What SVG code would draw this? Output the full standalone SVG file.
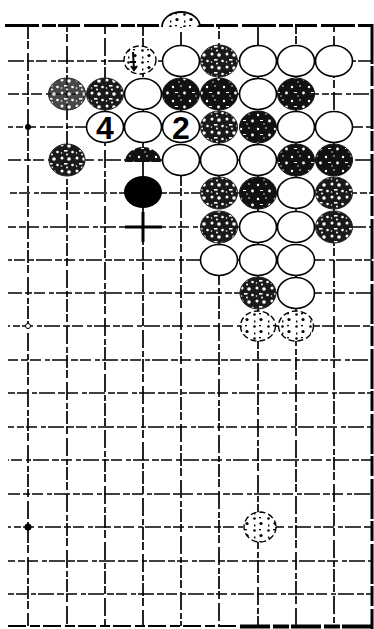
<svg xmlns="http://www.w3.org/2000/svg" width="374" height="629" viewBox="0 0 374 629">
<defs>
<pattern id="dk" width="17" height="14" patternUnits="userSpaceOnUse">
<rect width="17" height="14" fill="#111"/>
<circle cx="3" cy="3" r="1.2" fill="#fff"/>
<circle cx="11" cy="2" r="0.8" fill="#fff"/>
<circle cx="14.5" cy="9" r="1.4" fill="#fff"/>
<rect x="5" y="8" width="3" height="1" fill="#fff"/>
<circle cx="9" cy="12" r="0.7" fill="#fff"/>
</pattern>
<pattern id="md" width="15" height="13" patternUnits="userSpaceOnUse">
<rect width="15" height="13" fill="#1a1a1a"/>
<circle cx="2" cy="2" r="1.5" fill="#fff"/>
<circle cx="9" cy="3" r="1.8" fill="#fff"/>
<rect x="4" y="7" width="3.5" height="1.6" fill="#fff"/>
<circle cx="12.5" cy="9" r="1.3" fill="#fff"/>
<circle cx="7" cy="11.5" r="1" fill="#fff"/>
<circle cx="1.5" cy="10" r="0.8" fill="#fff"/>
</pattern>
<pattern id="lt" width="14" height="12" patternUnits="userSpaceOnUse">
<rect width="14" height="12" fill="#fff"/>
<circle cx="2.5" cy="2.5" r="1.3" fill="#000"/>
<circle cx="9" cy="7.5" r="1.6" fill="#000"/>
<rect x="7" y="1" width="2" height="1.3" fill="#000"/>
<rect x="2" y="8.5" width="1.4" height="2" fill="#000"/>
</pattern>
</defs>
<style>
.h{stroke:#000;stroke-width:1.5;stroke-dasharray:16 3 7 2 11 4 5 2;fill:none}
.v{stroke:#000;stroke-width:1.7;stroke-dasharray:13 2 8 4 18 3 6 2;fill:none}
.e{stroke:#000;fill:none}
.w{fill:#fff;stroke:#000;stroke-width:1.6}
.b1{fill:url(#dk);stroke:#111;stroke-width:1}
.b2{fill:url(#md);stroke:#222;stroke-width:1}
.l{fill:url(#lt);stroke:#000;stroke-width:1.4;stroke-dasharray:6 3}
.num{font-family:"Liberation Sans",Arial,sans-serif;font-size:32px;font-weight:bold;text-anchor:middle;fill:#000}
</style>
<rect width="374" height="629" fill="#fff"/>
<g id="grid">
<line class="h" x1="8" y1="61" x2="372" y2="61"/>
<line class="h" x1="8" y1="94" x2="372" y2="94" stroke-dashoffset="5"/>
<line class="h" x1="8" y1="127" x2="372" y2="127" stroke-dashoffset="11"/>
<line class="h" x1="8" y1="160" x2="372" y2="160" stroke-dashoffset="3"/>
<line class="h" x1="8" y1="193" x2="372" y2="193" stroke-dashoffset="17"/>
<line class="h" x1="8" y1="227" x2="372" y2="227" stroke-dashoffset="8"/>
<line class="h" x1="8" y1="260" x2="372" y2="260" stroke-dashoffset="22"/>
<line class="h" x1="8" y1="293" x2="372" y2="293" stroke-dashoffset="2"/>
<line class="h" x1="8" y1="326" x2="372" y2="326" stroke-dashoffset="14"/>
<line class="h" x1="8" y1="360" x2="372" y2="360" stroke-dashoffset="6"/>
<line class="h" x1="8" y1="393" x2="372" y2="393" stroke-dashoffset="19"/>
<line class="h" x1="8" y1="427" x2="372" y2="427" stroke-dashoffset="10"/>
<line class="h" x1="8" y1="460" x2="372" y2="460" stroke-dashoffset="25"/>
<line class="h" x1="8" y1="494" x2="372" y2="494" stroke-dashoffset="4"/>
<line class="h" x1="8" y1="527" x2="372" y2="527" stroke-dashoffset="13"/>
<line class="h" x1="8" y1="561" x2="372" y2="561" stroke-dashoffset="9"/>
<line class="h" x1="8" y1="594" x2="372" y2="594" stroke-dashoffset="20"/>
<line class="v" x1="28" y1="26" x2="28" y2="626"/>
<line class="v" x1="67" y1="26" x2="67" y2="626" stroke-dashoffset="7"/>
<line class="v" x1="105" y1="26" x2="105" y2="626" stroke-dashoffset="15"/>
<line class="v" x1="143" y1="26" x2="143" y2="626" stroke-dashoffset="3"/>
<line class="v" x1="181" y1="26" x2="181" y2="626" stroke-dashoffset="21"/>
<line class="v" x1="219" y1="26" x2="219" y2="626" stroke-dashoffset="10"/>
<line class="v" x1="258" y1="26" x2="258" y2="626" stroke-dashoffset="26"/>
<line class="v" x1="296" y1="26" x2="296" y2="626" stroke-dashoffset="5"/>
<line class="v" x1="334" y1="26" x2="334" y2="626" stroke-dashoffset="17"/>
<line class="e" x1="5" y1="25.5" x2="374" y2="25.5" stroke-width="3" stroke-dasharray="34 3 14 2 22 4"/>
<line class="e" x1="372" y1="24" x2="372" y2="629" stroke-width="3" stroke-dasharray="40 2 20 3"/>
<line class="e" x1="8" y1="626" x2="240" y2="626" stroke-width="2.2" stroke-dasharray="18 4 10 3"/>
<line class="e" x1="240" y1="626.5" x2="374" y2="626.5" stroke-width="4" stroke-dasharray="30 3 16 2"/>
<line class="e" x1="125" y1="227" x2="162" y2="227" stroke-width="3"/>
<line class="e" x1="143" y1="212" x2="143" y2="242" stroke-width="3"/>
<circle cx="28" cy="127" r="3" fill="#000"/>
<circle cx="28" cy="326" r="2.5" fill="#fff" stroke="#000" stroke-width="1"/>
<circle cx="28" cy="527" r="3.5" fill="#000"/>
</g>
<g id="s-top"><path d="M162,27 A19,15 0 0 1 200,27 Z" fill="url(#lt)" stroke="none"/><path d="M162,27 A19,15 0 0 1 200,27" class="e" stroke-width="1.8"/></g>
<g id="r1c3"><ellipse class="l" cx="140" cy="60" rx="16" ry="14"/><path d="M133,52 L134,70 M130,62 L136,62 M131,66 L134,70 L137,66" class="e" stroke-width="2"/></g>
<g id="r1c4"><ellipse class="w" cx="181" cy="61" rx="18.5" ry="15.5"/></g>
<g id="r1c5"><ellipse class="b2" cx="219" cy="61" rx="18.5" ry="16"/></g>
<g id="r1c6"><ellipse class="w" cx="258" cy="61" rx="18.5" ry="15.5"/></g>
<g id="r1c7"><ellipse class="w" cx="296" cy="61" rx="18.5" ry="15.5"/></g>
<g id="r1c8"><ellipse class="w" cx="334" cy="61" rx="18.5" ry="15.5"/></g>
<g id="r2c1"><ellipse class="b2" cx="67" cy="94" rx="18.5" ry="16" fill-opacity="0.8"/></g>
<g id="r2c2"><ellipse class="b2" cx="105" cy="94" rx="18.5" ry="16"/></g>
<g id="r2c3"><ellipse class="w" cx="143" cy="94" rx="18.5" ry="15.5"/></g>
<g id="r2c4"><ellipse class="b1" cx="181" cy="94" rx="18.5" ry="16"/></g>
<g id="r2c5"><ellipse class="b1" cx="219" cy="94" rx="18.5" ry="16"/></g>
<g id="r2c6"><ellipse class="w" cx="258" cy="94" rx="18.5" ry="15.5"/></g>
<g id="r2c7"><ellipse class="b1" cx="296" cy="94" rx="18.5" ry="16"/></g>
<g id="r3c2"><ellipse class="w" cx="105" cy="127" rx="18.5" ry="15.5"/><text class="num" x="105" y="138.5">4</text></g>
<g id="r3c3"><ellipse class="w" cx="143" cy="127" rx="18.5" ry="15.5"/></g>
<g id="r3c4"><ellipse class="w" cx="181" cy="127" rx="18.5" ry="15.5"/><text class="num" x="181" y="138.5">2</text></g>
<g id="r3c5"><ellipse class="b2" cx="219" cy="127" rx="18.5" ry="16"/></g>
<g id="r3c6"><ellipse class="b1" cx="258" cy="127" rx="18.5" ry="16"/></g>
<g id="r3c7"><ellipse class="w" cx="296" cy="127" rx="18.5" ry="15.5"/></g>
<g id="r3c8"><ellipse class="w" cx="334" cy="127" rx="18.5" ry="15.5"/></g>
<g id="r4c1"><ellipse class="b2" cx="67" cy="160" rx="18" ry="16"/></g>
<g id="r4c3"><path d="M125,162 A18,15 0 0 1 161,162 Z" fill="url(#dk)"/></g>
<g id="r4c4"><ellipse class="w" cx="181" cy="160" rx="18.5" ry="15.5"/></g>
<g id="r4c5"><ellipse class="w" cx="219" cy="160" rx="18.5" ry="15.5"/></g>
<g id="r4c6"><ellipse class="w" cx="258" cy="160" rx="18.5" ry="15.5"/></g>
<g id="r4c7"><ellipse class="b1" cx="296" cy="160" rx="18.5" ry="16"/></g>
<g id="r4c8"><ellipse class="b1" cx="334" cy="160" rx="18.5" ry="16"/></g>
<g id="r5c3"><ellipse cx="143" cy="192" rx="19" ry="16" fill="#000"/></g>
<g id="r5c5"><ellipse class="b2" cx="219" cy="193" rx="18.5" ry="16"/></g>
<g id="r5c6"><ellipse class="b1" cx="258" cy="193" rx="18.5" ry="16"/></g>
<g id="r5c7"><ellipse class="w" cx="296" cy="193" rx="18.5" ry="15.5"/></g>
<g id="r5c8"><ellipse class="b2" cx="334" cy="193" rx="18.5" ry="16"/></g>
<g id="r6c5"><ellipse class="b2" cx="219" cy="227" rx="18.5" ry="16"/></g>
<g id="r6c6"><ellipse class="w" cx="258" cy="227" rx="18.5" ry="15.5"/></g>
<g id="r6c7"><ellipse class="w" cx="296" cy="227" rx="18.5" ry="15.5"/></g>
<g id="r6c8"><ellipse class="b2" cx="334" cy="227" rx="18.5" ry="16"/></g>
<g id="r7c5"><ellipse class="w" cx="219" cy="260" rx="18.5" ry="15.5"/></g>
<g id="r7c6"><ellipse class="w" cx="258" cy="260" rx="18.5" ry="15.5"/></g>
<g id="r7c7"><ellipse class="w" cx="296" cy="260" rx="18.5" ry="15.5"/></g>
<g id="r8c6"><ellipse class="b2" cx="258" cy="293" rx="18" ry="16"/></g>
<g id="r8c7"><ellipse class="w" cx="296" cy="293" rx="18.5" ry="15.5"/></g>
<g id="r9c6"><ellipse class="l" cx="258" cy="326" rx="17.5" ry="15"/></g>
<g id="r9c7"><ellipse class="l" cx="296" cy="326" rx="17.5" ry="15"/></g>
<g id="r15c6"><ellipse class="l" cx="260" cy="527" rx="16" ry="15"/></g>
</svg>
